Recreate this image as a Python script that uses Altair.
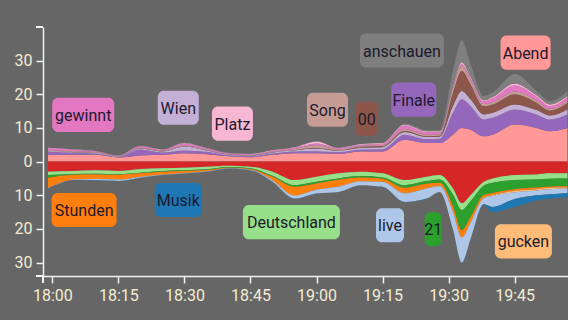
import altair as alt
import pandas as pd

# ---- data -----------------------------------------------------------------
minutes = [-1, 5, 10, 15, 20, 25, 30, 35, 40, 45, 50, 55, 60, 65, 70, 75, 80, 85,
           88, 91, 93, 95, 98, 100, 105, 110, 113, 117]

# series above the zero line (stacked outward from zero in this order)
abend = [2, 2, 2, 1.2, 1.8, 2, 2.5, 2.2, 1.6, 1.3, 2, 2.5, 2.5, 2.3, 3, 3, 6.5, 5.5,
         5.5, 8, 10, 9.5, 7.5, 8, 11, 10, 9, 10]
finale = [1, 0.6, 0.4, 0.2, 1.8, 0.7, 0.8, 0.7, 0.3, 0.3, 0.4, 0.5, 0.6, 0.5, 0.6, 0.7,
          1.5, 1.2, 1.3, 6.5, 8.5, 7, 5, 5, 4.5, 4, 3.5, 4]
wien = [0.2, 0.2, 0.2, 0.1, 0.3, 0.3, 1.2, 0.4, 0.2, 0.2, 0.3, 0.4, 0.8, 0.4, 0.5, 0.6,
        0.8, 0.6, 0.6, 2, 2.5, 2, 1.5, 1.5, 1.5, 1.3, 1.2, 1.5]
nullnull = [0.05, 0.05, 0.05, 0.05, 0.05, 0.05, 0.05, 0.05, 0.05, 0.05, 0.05, 0.05,
            0.2, 0.1, 0.3, 0.3, 0.4, 0.3, 0.3, 4, 6, 4.5, 2.5, 2.5, 3, 2.2, 1.5, 2]
song = [0.2, 0.2, 0.1, 0.1, 0.2, 0.2, 0.2, 0.2, 0.1, 0.1, 0.2, 0.3, 0.8, 0.3, 0.3, 0.3,
        0.5, 0.4, 0.4, 1.2, 1.5, 1.2, 0.6, 0.6, 0.8, 0.6, 0.5, 0.6]
gewinnt = [0.6, 0.5, 0.3, 0.1, 0.4, 0.3, 0.6, 0.4, 0.2, 0.2, 0.3, 0.4, 0.5, 0.4, 0.3,
           0.4, 1, 0.7, 0.6, 0.5, 0.5, 0.6, 0.8, 1.2, 1.8, 1.2, 0.8, 1]
platz = [0.05, 0.05, 0.05, 0.05, 0.05, 0.05, 0.2, 0.1, 0.1, 0.1, 0.1, 0.1, 0.6, 0.05,
         0.2, 0.2, 0.3, 0.3, 0.3, 0.3, 0.5, 0.4, 0.3, 0.4, 0.6, 0.4, 0.5, 0.4]
anschauen = [0.05, 0.05, 0.05, 0.05, 0.05, 0.05, 0.05, 0.05, 0.05, 0.05, 0.05, 0.05,
             0.05, 0.05, 0.05, 0.05, 0.3, 0.3, 0.3, 4.5, 6.5, 3.8, 1.3, 1.3, 2.8, 1.3,
             1.0, 1.5]

# series below the zero line (magnitudes, stacked outward from zero in this order)
esc = [3, 2.8, 2.6, 2.8, 2.2, 2, 1.8, 1.5, 1.2, 1.5, 3, 5.5, 4.5, 3.5, 3, 3.5, 5.5, 4.5,
       4, 8, 12.4, 10, 6, 5, 4, 3.8, 3.5, 3.5]
deutschland = [1, 0.9, 1, 0.9, 1.1, 0.8, 0.8, 0.8, 0.4, 0.5, 1.2, 1.5, 1.5, 1.5, 1.3,
               1.2, 1.5, 1.3, 1.3, 1.8, 2, 1.8, 1.2, 1.3, 1.5, 1.5, 1.6, 1.5]
einundzwanzig = [0.8, 0.2, 0.2, 0.2, 0.2, 0.2, 0.2, 0.2, 0.2, 0.2, 0.3, 0.5, 0.5, 0.4,
                 0.4, 0.4, 0.8, 0.8, 1, 3.5, 6, 4.7, 2.7, 3, 2.7, 2.4, 2.3, 2.3]
stunden = [3, 1.4, 1.3, 1.4, 1, 0.8, 0.6, 0.4, 0.1, 0.2, 1, 2.5, 1.8, 2, 1.1, 0.9, 1.5,
           1.3, 0.9, 1.4, 2, 1.5, 0.8, 0.6, 0.5, 0.5, 0.4, 0.4]
gucken = [0.1, 0.1, 0.1, 0.1, 0.1, 0.1, 0.05, 0.05, 0.05, 0.05, 0.1, 0.2, 0.1, 0.1, 0.1,
          0.1, 0.2, 0.1, 0.1, 0.3, 0.3, 0.2, 0.2, 0.3, 0.4, 0.4, 0.4, 0.4]
live = [0.05, 0.1, 0.3, 0.4, 0.2, 0.1, 0.1, 0.1, 0.1, 0.1, 0.4, 0.8, 1.1, 1.5, 1.1, 1.4,
        2.5, 3, 1.7, 5, 7.3, 4.8, 1.8, 3.3, 2, 1.4, 1.5, 1.2]
musik = [0.05, 0.05, 0.05, 0.05, 0.05, 0.05, 0.05, 0.05, 0.05, 0.05, 0.05, 0.05, 0.05,
         0.05, 0.05, 0.05, 0.05, 0.05, 0.05, 0.05, 0.05, 0.05, 0.3, 1.5, 2.4, 1.5, 1.3,
         1.2]

upper_names = ["Abend", "Finale", "Wien", "00", "Song", "gewinnt", "Platz", "anschauen"]
upper_vals = [abend, finale, wien, nullnull, song, gewinnt, platz, anschauen]
upper_cols = ["#ff9896", "#9467bd", "#c5b0d5", "#8c564b", "#c49c94", "#e377c2",
              "#f7b6d2", "#7f7f7f"]
lower_names = ["ESC", "Deutschland", "21", "Stunden", "gucken", "live", "Musik"]
lower_vals = [esc, deutschland, einundzwanzig, stunden, gucken, live, musik]
lower_cols = ["#d62728", "#98df8a", "#2ca02c", "#ff7f0e", "#ffbb78", "#aec7e8",
              "#1f77b4"]

# labels: text, anchor minute, anchor value, box width (px)
label_text = ["gewinnt", "Stunden", "Musik", "Wien", "Platz", "Deutschland", "Song",
              "00", "anschauen", "Finale", "live", "21", "Abend", "gucken"]
label_min = [7.0, 7.2, 28.6, 28.6, 40.9, 54.3, 62.5, 71.4, 79.4, 82.1, 76.7, 86.5,
             107.5, 107.0]
label_val = [13.9, -14.4, -11.4, 16.0, 11.3, -18.0, 15.4, 12.7, 33.0, 18.4, -18.9,
             -20.1, 32.4, -23.7]
label_w = [62, 65, 47, 41, 41, 97, 41, 23, 84, 45, 28, 17, 50, 57]

# ---- tables ------------------------------------------------------------------
rows = []
for rank, (n, vals) in enumerate(zip(upper_names, upper_vals)):
    for m, v in zip(minutes, vals):
        rows.append({"minute": m, "value": v, "series": n, "rank": rank})
for rank, (n, vals) in enumerate(zip(lower_names, lower_vals)):
    for m, v in zip(minutes, vals):
        rows.append({"minute": m, "value": -v, "series": n, "rank": rank})
df = pd.DataFrame(rows)

all_names = upper_names + lower_names
all_cols = upper_cols + lower_cols
col_of = dict(zip(all_names, all_cols))
labels = pd.DataFrame({
    "text": label_text, "minute": label_min, "value": label_val, "w": label_w,
    "fill": [col_of[t] for t in label_text],
})

FONT = "Roboto"
AXIS_COL = "#f2f2f2"
LABEL_COL = "#f3ecd3"

xs = alt.Scale(domain=[-1, 116], nice=False, zero=False)
ys = alt.Scale(domain=[-34, 40], nice=False, zero=False)

x_axis = alt.Axis(
    values=[0, 15, 30, 45, 60, 75, 90, 105],
    labelExpr="(18 + floor(datum.value / 60)) + ':' + (datum.value % 60 < 10 ? '0' : '') + (datum.value % 60)",
    title=None, grid=False, domainColor=AXIS_COL, tickColor=AXIS_COL, domainWidth=1.5,
    tickWidth=1.5, tickSize=7, labelColor=LABEL_COL, labelFont=FONT, labelFontSize=16,
    labelPadding=4,
)
y_axis = alt.Axis(
    values=[-30, -20, -10, 0, 10, 20, 30], labelExpr="abs(datum.value)",
    title=None, grid=False, domainColor=AXIS_COL, tickColor=AXIS_COL, domainWidth=1.5,
    tickWidth=1.5, tickSize=7, labelColor=LABEL_COL, labelFont=FONT, labelFontSize=16,
    labelPadding=4,
)

area = alt.Chart(df).mark_area(interpolate="monotone", clip=True).encode(
    x=alt.X("minute:Q", scale=xs, axis=x_axis),
    y=alt.Y("value:Q", stack="zero", scale=ys, axis=y_axis),
    color=alt.Color("series:N", scale=alt.Scale(domain=all_names, range=all_cols),
                    legend=None),
    order=alt.Order("rank:Q"),
)

boxes = alt.Chart(labels).transform_calculate(
    lo="datum.value - 5.07", hi="datum.value + 5.07"
).mark_bar(cornerRadius=6).encode(
    x=alt.X("minute:Q", scale=xs),
    y=alt.Y("lo:Q", scale=ys),
    y2="hi:Q",
    size=alt.Size("w:Q", scale=None),
    color=alt.Color("fill:N", scale=None),
)

texts = alt.Chart(labels).mark_text(
    font=FONT, fontSize=16, color="#1c1a2c", baseline="middle", align="center", dy=1
).encode(
    x=alt.X("minute:Q", scale=xs),
    y=alt.Y("value:Q", scale=ys),
    text="text:N",
)

# outer end caps of the axis lines (d3-style)
cap_top = alt.Chart(labels).mark_rule(color=AXIS_COL, strokeWidth=1.5).encode(
    x=alt.value(-7), x2=alt.value(0), y=alt.value(0))
cap_bottom = alt.Chart(labels).mark_rule(color=AXIS_COL, strokeWidth=1.5).encode(
    x=alt.value(-7), x2=alt.value(0), y=alt.value(249))
cap_left = alt.Chart(labels).mark_rule(color=AXIS_COL, strokeWidth=1.5).encode(
    x=alt.value(0), y=alt.value(249), y2=alt.value(256))

chart = alt.layer(area, boxes, texts, cap_top, cap_bottom, cap_left).properties(
    width=525, height=249,
    autosize="none",
    padding={"left": 43, "top": 27, "right": 0, "bottom": 44},
    background="#666666",
).configure_view(stroke=None)

chart.save("out.html", embed_options={"renderer": "svg", "actions": False})
